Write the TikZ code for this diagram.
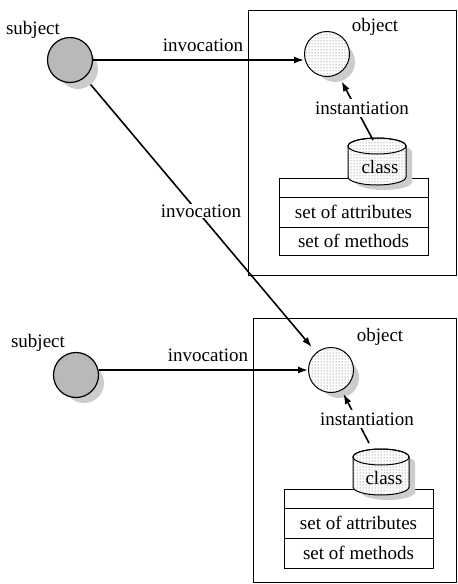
\documentclass[tikz,border=0pt]{standalone}
\usepackage{fontspec}
\setmainfont{Liberation Serif}
\usetikzlibrary{arrows.meta,patterns}
\begin{document}
\begin{tikzpicture}[x=1pt,y=-1pt,
  lbl/.style={font=\fontsize{19}{22}\selectfont, inner sep=1pt},
  subj/.style={circle, draw, line width=1.2pt, fill=gray!55, minimum size=45pt, inner sep=0pt},
  obj/.style={circle, draw, line width=1pt, preaction={fill=white}, pattern=dots, pattern color=gray!70!black, minimum size=45pt, inner sep=0pt},
  shad/.style={circle, fill=gray!40, minimum size=40pt, inner sep=0pt},
  conn/.style={line width=1.6pt, -{Latex[length=10pt,width=7pt]}},
  cell/.style={draw, line width=1pt, minimum width=149pt, inner sep=0pt, font=\fontsize{19}{22}\selectfont},
  frame/.style={line width=1pt},
  cylbody/.style={draw, line width=1pt, preaction={fill=white}, pattern=dots, pattern color=gray!70!black},
  cylshad/.style={fill=gray!40}
]
\useasboundingbox (0,0) rectangle (458,584);

% frames
\draw[frame] (248,10) rectangle (456,275);
\draw[frame] (253,318) rectangle (456,582);

% ---------- top part ----------
\node[shad] (s1sh) at (78,69) {};
\node[subj] (s1) at (70,60) {};
\node[lbl] (s1l) at (33,30) {subject};

\node[shad] (o1sh) at (335,62) {};
\node[obj] (o1) at (327,54) {};
\node[lbl] (o1l) at (375,27) {object};

% class table (top)
\node[cell, minimum height=19pt] (t1h) at (353.5,187.5) {};
\node[cell, minimum height=30pt] (t1a) at (353.5,212) {set of attributes};
\node[cell, minimum height=28pt] (t1m) at (353.5,241) {set of methods};

% cylinder (top)
\fill[cylshad] (356,152) -- (356,182) arc[start angle=180,end angle=0,x radius=28,y radius=8] -- (412,152) arc[start angle=0,end angle=-180,x radius=28,y radius=8] -- cycle;
\path[cylbody] (348,146) -- (348,177) arc[start angle=180,end angle=0,x radius=29,y radius=8] -- (406,146) arc[start angle=0,end angle=-180,x radius=29,y radius=8] -- cycle;
\draw[line width=1pt] (377,146) ellipse [x radius=29, y radius=8];
\node[lbl] (c1) at (380,167) {class};
\coordinate (ct1) at (373,140);

% ---------- bottom part ----------
\node[shad] (s2sh) at (84,383) {};
\node[subj] (s2) at (76,375) {};
\node[lbl] (s2l) at (38,343) {subject};

\node[shad] (o2sh) at (339,378) {};
\node[obj] (o2) at (331,370) {};
\node[lbl] (o2l) at (380,337) {object};

% class table (bottom)
\node[cell, minimum height=19pt] (t2h) at (358.5,498.5) {};
\node[cell, minimum height=30pt] (t2a) at (358.5,523) {set of attributes};
\node[cell, minimum height=30pt] (t2m) at (358.5,553) {set of methods};

% cylinder (bottom)
\fill[cylshad] (361,463) -- (361,492) arc[start angle=180,end angle=0,x radius=27,y radius=8] -- (415,463) arc[start angle=0,end angle=-180,x radius=27,y radius=8] -- cycle;
\path[cylbody] (353,457) -- (353,487) arc[start angle=180,end angle=0,x radius=28,y radius=8] -- (409,457) arc[start angle=0,end angle=-180,x radius=28,y radius=8] -- cycle;
\draw[line width=1pt] (381,457) ellipse [x radius=28, y radius=8];
\node[lbl] (c2) at (384,478) {class};
\coordinate (ct2) at (369,443);

% ---------- connectors ----------
\draw[conn] (s1.east) -- (o1.west |- s1.east);
\draw[conn, shorten <=9pt, shorten >=7pt] (s1) -- (o2);
\draw[conn] (s2.east |- o2.west) -- (o2.west);
\draw[conn, shorten >=8pt] (ct1) -- (o1);
\draw[conn, shorten >=4pt] (ct2) -- (o2);

% connector labels
\node[lbl] (inv1) at (203,45) {invocation};
\node[lbl, fill=white] (inv2) at (201,211) {invocation};
\node[lbl] (inv3) at (208,355) {invocation};
\node[lbl, fill=white, inner sep=3pt] (ins1) at (362,108) {instantiation};
\node[lbl, fill=white, inner sep=3pt] (ins2) at (367,419) {instantiation};
\end{tikzpicture}
\end{document}
